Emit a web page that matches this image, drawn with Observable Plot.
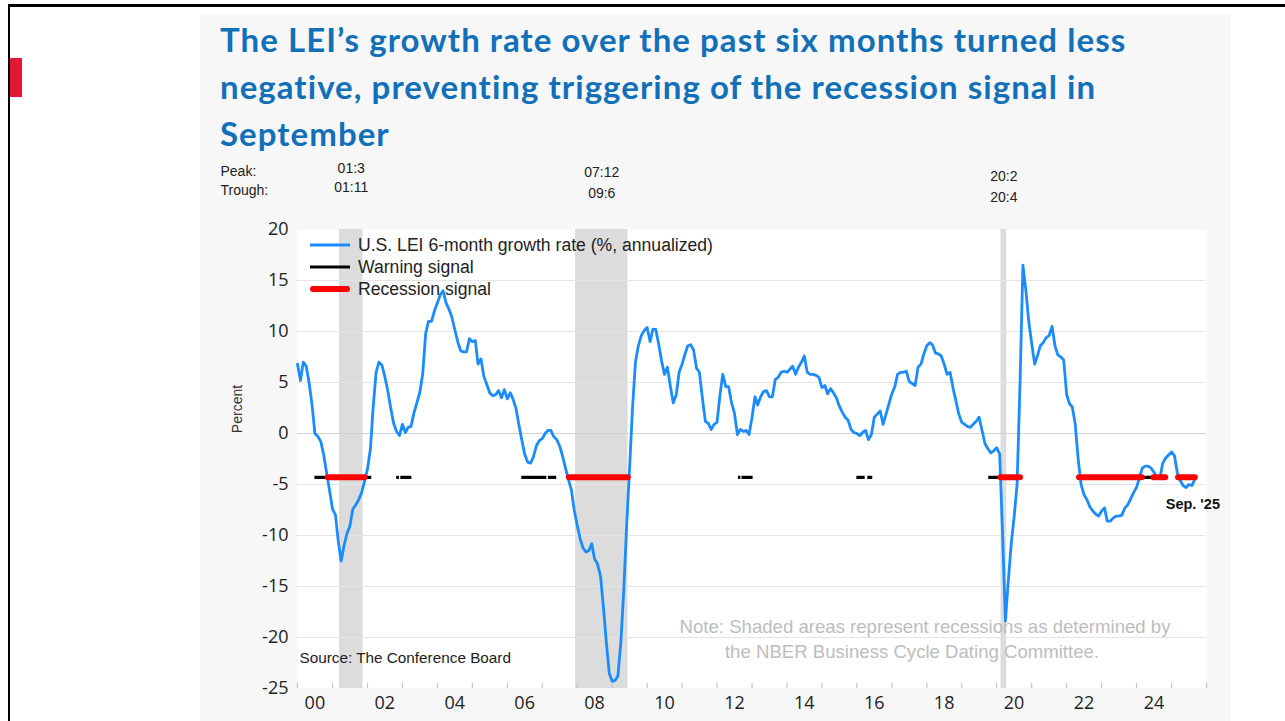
<!DOCTYPE html>
<html><head><meta charset="utf-8">
<script src="https://cdn.jsdelivr.net/npm/d3@7"></script>
<script src="https://cdn.jsdelivr.net/npm/@observablehq/plot@0.6"></script>
<style>
html,body{margin:0;padding:0;background:#fff;}
#page{position:relative;width:1285px;height:721px;overflow:hidden;font-family:"Liberation Sans",Arial,sans-serif;}
.bt{position:absolute;left:8px;top:4px;width:1277px;height:3px;background:#000;}
.bl{position:absolute;left:8px;top:4px;width:2px;height:717px;background:#000;}
.redbar{position:absolute;left:10px;top:58px;width:12px;height:39px;background:#e31837;}
.panel{position:absolute;left:200px;top:14px;width:1031px;height:707px;background:#f7f7f7;}
.title{position:absolute;left:220px;top:16px;font-family:Lato,"Open Sans",sans-serif;font-weight:700;font-size:33px;letter-spacing:1.05px;line-height:47px;color:#1170b8;white-space:nowrap;}
#chart{position:absolute;left:200px;top:150px;}
.legend{position:absolute;left:310px;top:234px;font-size:17.6px;color:#222;}
.legend .row{display:flex;align-items:center;height:22px;}
.legend svg{width:48px;height:22px;flex:none;}
</style></head>
<body><div id="page">
<div class="panel"></div>
<div class="bt"></div><div class="bl"></div><div class="redbar"></div>
<div class="title">The LEI’s growth rate over the past six months turned less<br>negative, preventing triggering of the recession signal in<br>September</div>
<div id="chart"></div>
<div class="legend" id="legend"></div>
</div>
<script>
// Monthly U.S. LEI 6-month growth rate (% annualized), Jan 2000 – Sep 2025
const lei6m = [
  // 2000
  6.8, 5.2, 7.0, 6.6, 5.0, 2.8, 0.0, -0.3, -0.8, -2.1, -3.9, -5.6,
  // 2001
  -7.4, -8.0, -10.5, -12.5, -11.0, -9.8, -9.1, -7.4, -7.0, -6.5, -5.8, -4.7,
  // 2002
  -3.5, -1.5, 2.5, 6.0, 7.0, 6.7, 5.6, 4.2, 2.5, 1.0, 0.2, -0.2,
  // 2003
  0.9, 0.1, 0.6, 0.7, 2.0, 3.0, 4.0, 5.8, 9.8, 11.0, 11.0, 12.0,
  // 2004
  12.8, 13.6, 14.0, 12.8, 12.2, 11.4, 10.2, 9.0, 8.1, 8.0, 8.0, 9.3,
  // 2005
  9.0, 9.1, 6.8, 7.3, 5.6, 4.8, 4.0, 3.7, 3.8, 4.2, 3.5, 4.3,
  // 2006
  3.4, 4.0, 3.4, 2.5, 0.9, -0.6, -2.0, -2.8, -2.9, -2.3, -1.2, -0.7,
  // 2007
  -0.5, 0.0, 0.3, 0.3, -0.3, -0.6, -1.2, -2.2, -3.4, -4.5, -5.5, -7.5,
  // 2008
  -9.0, -10.3, -11.2, -11.6, -11.5, -10.8, -12.3, -12.8, -14.0, -17.0, -20.5, -23.5,
  // 2009
  -24.3, -24.2, -23.8, -20.5, -15.5, -9.0, -3.5, 2.5, 7.0, 8.6, 9.6, 10.1,
  // 2010
  10.4, 9.0, 10.2, 10.2, 8.8, 7.1, 5.8, 6.5, 4.6, 3.0, 3.8, 6.0,
  // 2011
  6.8, 7.8, 8.6, 8.7, 8.2, 6.4, 6.0, 3.5, 1.2, 1.0, 0.4, 0.9,
  // 2012
  1.1, 3.8, 5.8, 4.6, 4.6, 3.0, 2.0, -0.1, 0.4, 0.2, 0.3, -0.1,
  // 2013
  1.6, 3.6, 2.8, 3.6, 4.1, 4.2, 3.6, 3.6, 5.3, 5.5, 6.0, 6.1,
  // 2014
  6.0, 6.3, 6.6, 5.8, 6.5, 7.0, 7.6, 6.0, 5.8, 5.8, 5.7, 5.5,
  // 2015
  4.5, 4.7, 3.9, 4.4, 4.0, 3.5, 2.7, 2.1, 1.6, 1.3, 0.4, 0.1,
  // 2016
  0.0, -0.2, 0.1, 0.3, -0.6, -0.1, 1.6, 1.9, 2.2, 0.9, 1.9, 2.9,
  // 2017
  3.9, 4.6, 5.8, 6.0, 6.0, 6.1, 5.1, 4.9, 4.7, 6.5, 6.8, 7.8,
  // 2018
  8.6, 8.9, 8.7, 7.9, 7.8, 7.6, 6.8, 5.8, 6.0, 4.5, 3.2, 1.9,
  // 2019
  1.1, 0.9, 0.7, 0.6, 0.9, 1.2, 1.6, 0.3, -1.0, -1.5, -1.9, -1.7,
  // 2020
  -1.4, -2.0, -9.5, -18.4, -14.5, -10.8, -8.2, -5.0, 5.0, 16.5, 14.0, 11.0,
  // 2021
  8.8, 6.8, 7.6, 8.6, 8.9, 9.4, 9.6, 10.5, 8.6, 7.7, 7.5, 7.2,
  // 2022
  3.8, 2.9, 2.6, 0.9, -2.5, -5.0, -6.0, -6.5, -7.2, -7.6, -7.9, -8.1,
  // 2023
  -7.6, -7.3, -8.6, -8.6, -8.3, -8.1, -8.1, -8.0, -7.3, -7.0, -6.4, -5.8,
  // 2024
  -5.3, -4.3, -3.4, -3.2, -3.2, -3.4, -3.8, -4.3, -4.4, -2.9, -2.4, -2.1,
  // 2025
  -1.8, -2.2, -3.8, -4.6, -5.1, -5.3, -5.0, -5.1, -4.5
];
const firstMonth = "2000-01-01";
const lastLabel = "Sep. '25";

// Signal threshold level (where signals are drawn)
const signalLevel = -4.3;
const warningPeriods = [
  ["2000-07-01","2000-11-18"], ["2001-12-06","2002-02-15"],
  ["2002-11-03","2002-12-01"], ["2002-12-15","2003-04-10"],
  ["2006-06-01","2007-02-18"], ["2007-03-06","2007-06-01"],
  ["2007-09-15","2007-10-12"],
  ["2012-08-12","2012-09-06"], ["2012-09-18","2013-01-12"],
  ["2016-01-01","2016-03-28"], ["2016-04-24","2016-06-15"],
  ["2019-10-10","2020-02-01"], ["2024-03-01","2024-07-01"]
];
const recessionSignalPeriods = [
  ["2000-11-18","2001-12-06"], ["2007-10-12","2009-06-18"],
  ["2020-02-15","2020-09-06"], ["2022-05-15","2024-03-01"],
  ["2024-07-01","2024-11-01"], ["2025-03-15","2025-09-06"]
];
// NBER recessions (peak / trough months)
const recessionPeaks   = ["2001-03-15","2007-12-15","2020-02-15"];
const recessionTroughs = ["2001-11-15","2009-06-15","2020-04-15"];
const peakLabels   = ["01:3","07:12","20:2"];
const troughLabels = ["01:11","09:6","20:4"];

const yTicks = [-25,-20,-15,-10,-5,0,5,10,15,20];
const gridTicks = [-20,-15,-10,-5,5,10,15];
const xLabelYears = [2000,2002,2004,2006,2008,2010,2012,2014,2016,2018,2020,2022,2024];

const legendItems = [
  {label:"U.S. LEI 6-month growth rate (%, annualized)", color:"#1a8cff", width:3, cap:"butt"},
  {label:"Warning signal", color:"#000", width:3, cap:"butt"},
  {label:"Recession signal", color:"#ff0000", width:6, cap:"round"}
];

// ---- build tables ----
const parse = d3.utcParse("%Y-%m-%d");
const start = parse(firstMonth);
const dates = d3.utcMonth.range(start, d3.utcMonth.offset(start, lei6m.length));
const series = dates.map((date, i) => ({date, value: lei6m[i]}));
const warn = warningPeriods.map(([a,b]) => ({x1: parse(a), x2: parse(b)}));
const rec = recessionSignalPeriods.map(([a,b]) => ({x1: parse(a), x2: parse(b)}));
const nber = recessionPeaks.map((p, i) => {
  const x1 = parse(p), x2 = parse(recessionTroughs[i]);
  return {x1, x2, mid: new Date((+x1 + +x2) / 2), peak: peakLabels[i], trough: troughLabels[i]};
});
const yearTicks = d3.utcYear.range(new Date(Date.UTC(2000,0,1)), new Date(Date.UTC(2026,0,2)));
const labelDates = xLabelYears.map(y => new Date(Date.UTC(y,6,1)));
const last = series[series.length - 1];

const W = 1031, H = 571, mt = 79, mb = 33, ml = 97, mr = 25;
const plotH = H - mt - mb;
const sans = "'Liberation Sans', Arial, sans-serif";
const labelStagger = [-4, 0, 4];   // vertical stagger of peak/trough labels (px)

const chart = Plot.plot({
  width: W, height: H,
  marginTop: mt, marginBottom: mb, marginLeft: ml, marginRight: mr,
  style: {background: "transparent", fontFamily: "'Open Sans', sans-serif", color: "#222", overflow: "visible"},
  x: {type: "utc", domain: [new Date(Date.UTC(2000,0,1)), new Date(Date.UTC(2026,0,1))]},
  y: {domain: [-25, 20]},
  marks: [
    Plot.frame({fill: "white", stroke: null}),
    Plot.rectX(nber, {x1: "x1", x2: "x2", fill: "#dcdcdc"}),
    Plot.ruleY(gridTicks, {stroke: "#e4e4e4", strokeWidth: 1.2}),
    Plot.ruleY([0], {stroke: "#d2d2d2", strokeWidth: 1.2}),
    Plot.tickX(yearTicks, {x: d => d, stroke: "#c4c4c4", strokeWidth: 1.2, insetTop: plotH - 5}),
    Plot.axisY(yTicks, {tickSize: 0, tickPadding: 9, fontSize: 18, tickFormat: d => String(d), label: null, fill: "#222"}),
    Plot.axisX(labelDates, {tickSize: 0, tickPadding: 8, fontSize: 18, tickFormat: d3.utcFormat("%y"), label: null, fill: "#222"}),
    Plot.line(series, {x: "date", y: "value", stroke: "#1a8cff", strokeWidth: 2.8, strokeLinejoin: "round"}),
    Plot.ruleY(warn, {x1: "x1", x2: "x2", y: () => signalLevel, stroke: "#000", strokeWidth: 3.2}),
    Plot.ruleY(rec, {x1: "x1", x2: "x2", y: () => signalLevel, stroke: "#ff0000", strokeWidth: 6, strokeLinecap: "round"}),
    Plot.text([lastLabel], {x: () => last.date, y: () => last.value, text: d => d, dx: -2, dy: 25, fontWeight: "bold", fontSize: 14.5, fontFamily: sans, fill: "#111"}),
    Plot.text(["Percent"], {frameAnchor: "left", text: d => d, rotate: -90, textAnchor: "middle", dx: -60, dy: -50, fontSize: 14, fontFamily: sans, fill: "#333"}),
    Plot.text(["Source: The Conference Board"], {frameAnchor: "bottom-left", text: d => d, dx: 2, dy: -26, textAnchor: "start", fontSize: 15.3, fontFamily: sans, fill: "#222"}),
    Plot.text(["Note: Shaded areas represent recessions as determined by"], {frameAnchor: "bottom", text: d => d, dx: 173, dy: -56, fontSize: 18.6, fontFamily: sans, fill: "#bdbdbd"}),
    Plot.text(["the NBER Business Cycle Dating Committee."], {frameAnchor: "bottom", text: d => d, dx: 160, dy: -31, fontSize: 18.6, fontFamily: sans, fill: "#bdbdbd"}),
    Plot.text(["Peak:"], {frameAnchor: "top-left", text: d => d, dx: -77, dy: -63, textAnchor: "start", fontSize: 14, fontFamily: sans, fill: "#222"}),
    Plot.text(["Trough:"], {frameAnchor: "top-left", text: d => d, dx: -77, dy: -44, textAnchor: "start", fontSize: 14, fontFamily: sans, fill: "#222"}),
    ...nber.map((r, i) => Plot.text([r], {x: "mid", text: "peak", frameAnchor: "top", dy: -62 + labelStagger[i], fontSize: 14, fontFamily: sans, fill: "#222"})),
    ...nber.map((r, i) => Plot.text([r], {x: "mid", text: "trough", frameAnchor: "top", dy: -43 + labelStagger[i] + (i > 0 ? 2 : 0), fontSize: 14, fontFamily: sans, fill: "#222"}))
  ]
});
document.getElementById("chart").appendChild(chart);

const lg = d3.select("#legend");
legendItems.forEach(it => {
  const row = lg.append("div").attr("class", "row");
  const s = row.append("svg");
  s.append("line").attr("x1", it.cap === "round" ? 3 : 0).attr("x2", it.cap === "round" ? 37 : 40)
    .attr("y1", 11).attr("y2", 11).attr("stroke", it.color).attr("stroke-width", it.width).attr("stroke-linecap", it.cap);
  row.append("span").text(it.label);
});
</script>
</body></html>
